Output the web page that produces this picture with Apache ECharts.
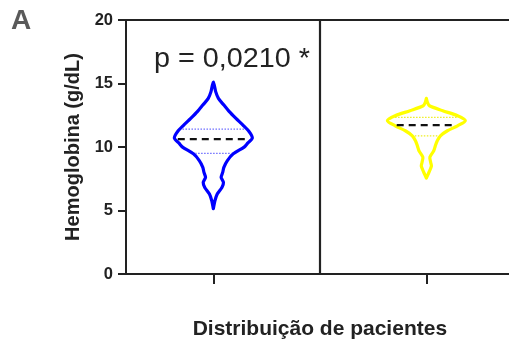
<!DOCTYPE html>
<html>
<head>
<meta charset="utf-8">
<script src="https://cdn.jsdelivr.net/npm/echarts@6/dist/echarts.min.js"></script>
<style>
html,body{margin:0;padding:0;background:#fff;}
#chart{width:509px;height:348px;}
</style>
</head>
<body>
<div id="chart"></div>
<script>
// ---- data ----
const groups = ['Grupo 1', 'Grupo 2'];
const groupX = [1, 2];
const yTicks = [0, 5, 10, 15, 20];
// violin profiles: hemoglobin levels (g/dL) and relative density (0..1)
const hgbLevels1 = [5.15, 5.77, 6.3, 6.82, 7.22, 7.61, 8.0, 8.4, 8.93, 9.46, 9.99, 10.3, 10.7, 11.2, 11.72, 12.25, 12.78, 13.3, 13.83, 14.36, 14.8, 15.1];
const density1   = [0, 0.04, 0.1, 0.22, 0.26, 0.2, 0.24, 0.27, 0.36, 0.51, 0.79, 0.88, 1.0, 0.92, 0.76, 0.58, 0.41, 0.27, 0.13, 0.06, 0.03, 0];
const hgbLevels2 = [7.55, 8.1, 8.5, 8.8, 9.2, 9.7, 10.09, 10.49, 10.88, 11.28, 11.67, 12.07, 12.46, 12.86, 13.25, 13.5, 13.83];
const density2   = [0, 0.08, 0.13, 0.11, 0.09, 0.19, 0.23, 0.28, 0.36, 0.54, 0.8, 1.0, 0.8, 0.42, 0.08, 0.03, 0];
const medians = [10.62, 11.72];
const q1 = [9.5, 10.88];
const q3 = [11.41, 12.33];
const pText = 'p = 0,0210 *';

// ---- styles ----
const levelsAll = [hgbLevels1, hgbLevels2];
const densAll = [density1, density2];
const strokeColors = ['#0000ff', '#ffff00'];
const quartColors = ['#6e6eff', '#eeee22'];
const widthScale = 0.183; // x-units per unit density
const FONT = '"Liberation Sans", Arial, sans-serif';
const AX = '#222';

function interp(levels, dens, v) {
  for (let i = 0; i < levels.length - 1; i++) {
    if (v >= levels[i] && v <= levels[i + 1]) {
      const t = (v - levels[i]) / (levels[i + 1] - levels[i]);
      return dens[i] + t * (dens[i + 1] - dens[i]);
    }
  }
  return 0;
}

function renderViolin(params, api) {
  const gi = api.value(4);
  const x = api.value(0);
  const levels = levelsAll[gi], dens = densAll[gi];
  const cx = api.coord([x, 0])[0];
  const unit = api.size([1, 0])[0];
  const right = [], left = [];
  for (let k = 0; k < levels.length; k++) {
    const py = api.coord([x, levels[k]])[1];
    const hw = dens[k] * widthScale * unit;
    right.push([cx + hw, py]);
    left.unshift([cx - hw, py]);
  }
  const pts = right.concat(left);
  const hline = (v, inset) => {
    const hw = interp(levels, dens, v) * widthScale * unit - inset;
    const py = api.coord([x, v])[1];
    return { x1: cx - hw, y1: py, x2: cx + hw, y2: py };
  };
  return {
    type: 'group',
    children: [
      { type: 'polygon', shape: { points: pts, smooth: 0.25 },
        style: { fill: '#fff', stroke: strokeColors[gi], lineWidth: 3.2, lineJoin: 'round' } },
      { type: 'line', shape: hline(api.value(2), 2.5),
        style: { stroke: quartColors[gi], lineWidth: 1.3, lineDash: [1.5, 1.5] } },
      { type: 'line', shape: hline(api.value(3), 2.5),
        style: { stroke: quartColors[gi], lineWidth: 1.3, lineDash: [1.5, 1.5] } },
      { type: 'line', shape: hline(api.value(1), 2.5),
        style: { stroke: '#111', lineWidth: 2.4, lineDash: [7, 5] } }
    ]
  };
}

const chart = echarts.init(document.getElementById('chart'), null, { renderer: 'canvas' });
const xMin = 0.59, xMax = 2.41;
chart.setOption({
  animation: false,
  grid: { left: 126, top: 20, width: 387.7, height: 254, containLabel: false, outerBoundsMode: 'none' },
  xAxis: [{
    type: 'value', min: xMin, max: xMax, position: 'bottom',
    axisLine: { show: true, onZero: false, lineStyle: { color: AX, width: 2 } },
    axisTick: { show: true, customValues: groupX, length: 10, lineStyle: { color: AX, width: 2 } },
    axisLabel: { show: false },
    splitLine: { show: false },
    name: 'Distribuição de pacientes', nameLocation: 'middle', nameGap: 45,
    nameTextStyle: { fontFamily: FONT, fontWeight: 'bold', fontSize: 21, color: '#222' }
  }, {
    type: 'value', min: xMin, max: xMax, position: 'top',
    axisLine: { show: true, onZero: false, lineStyle: { color: AX, width: 2 } },
    axisTick: { show: false }, axisLabel: { show: false }, splitLine: { show: false }
  }],
  yAxis: {
    type: 'value', min: 0, max: 20, interval: 5,
    axisLine: { show: true, onZero: false, lineStyle: { color: AX, width: 2 } },
    axisTick: { show: true, length: 8, lineStyle: { color: AX, width: 2 } },
    axisLabel: { fontFamily: FONT, fontWeight: 'bold', fontSize: 16.5, color: '#222', margin: 13,
      customValues: yTicks },
    splitLine: { show: false },
    name: 'Hemoglobina (g/dL)', nameLocation: 'middle', nameGap: 43, nameRotate: 90,
    nameTextStyle: { fontFamily: FONT, fontWeight: 'bold', fontSize: 20, color: '#222' }
  },
  series: [{
    type: 'custom',
    renderItem: renderViolin,
    data: groups.map((g, i) => ({ name: g, value: [groupX[i], medians[i], q1[i], q3[i], i] })),
    clip: false,
    z: 3
  }, {
    type: 'line',
    data: [[(groupX[0] + groupX[1]) / 2, 0]],
    showSymbol: false, symbol: 'none', lineStyle: { opacity: 0 },
    markLine: {
      silent: true, symbol: 'none', label: { show: false },
      lineStyle: { color: AX, width: 2.2, type: 'solid' },
      data: [{ xAxis: (groupX[0] + groupX[1]) / 2 }]
    },
    z: 2
  }],
  graphic: [{
    type: 'text', x: 154, y: 60, scaleX: 1.065, originX: 0,
    style: { text: pText, font: '27px ' + FONT, fill: '#222', verticalAlign: 'middle' }
  }, {
    type: 'text', x: 11, y: 21,
    style: { text: 'A', font: 'bold 28px ' + FONT, fill: '#5a5a5a', verticalAlign: 'middle' }
  }]
});
</script>
</body>
</html>
